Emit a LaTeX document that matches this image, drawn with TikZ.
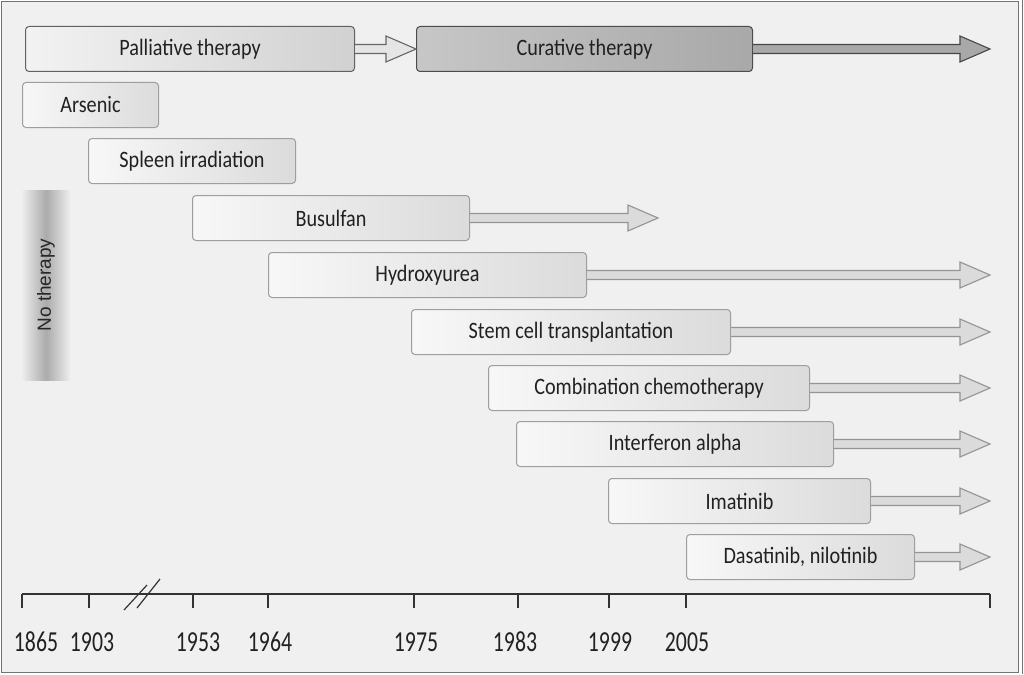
\documentclass[tikz,border=0pt]{standalone}
\usepackage{fontspec}
\setmainfont{Carlito}[FakeStretch=0.86]
\newfontfamily\yearfont{Carlito}[FakeStretch=0.75]
\newfontfamily\barfont{Liberation Sans}
\usepackage{tikz}
\usetikzlibrary{calc}

% hollow block arrow from a box to the x of a coordinate
\newcommand{\therarrow}[3]{%
  \draw[#3] let \p1 = (#1.east), \p2 = (#2) in
    (\x1,\y1+4.5pt) -- (\x2-30pt,\y1+4.5pt) -- (\x2-30pt,\y1+13pt) -- (\x2,\y1)
    -- (\x2-30pt,\y1-13pt) -- (\x2-30pt,\y1-4.5pt) -- (\x1,\y1-4.5pt);
}

\begin{document}
\begin{tikzpicture}[x=1pt,y=-1pt,line width=1pt,
  font=\fontsize{23.5}{28}\selectfont, text=black!87,
  drug/.style={draw=black!38, rounded corners=3.5pt, left color=black!3,
    right color=black!14, minimum height=45, inner sep=0pt, anchor=west},
  era/.style={drug, draw=black!62, left color=black!5, right color=black!18},
  cure/.style={drug, draw=black!70, left color=black!22, right color=black!34},
  lightarr/.style={draw=black!42, fill=black!14, line width=1.1pt},
  paliarr/.style={draw=black!60, fill=black!10, line width=1.1pt},
  curearr/.style={draw=black!72, fill=black!34, line width=1.1pt},
  year/.style={anchor=base, inner sep=0pt, font=\yearfont\fontsize{29}{32}\selectfont}]
  \useasboundingbox (0,0) rectangle (1024,674);

  % frame
  \draw[black!55, fill=black!6] (1.5,1.5) rectangle (1018,672.5);
  \draw[black!55] (1022.5,0) -- (1022.5,674);

  \node[rotate=90, minimum width=190, minimum height=48, inner sep=0pt,
    left color=black!7, right color=black!7, middle color=black!33,
    font=\barfont\fontsize{19}{22}\selectfont, text=black!85] (none) at (46,285) {No therapy};

  \node[era,  minimum width=329] (pall) at (25,49)  {Palliative therapy};
  \node[cure, minimum width=336] (cur)  at (416,49) {Curative therapy};
  \node[drug, minimum width=136] (ars)  at (22,105) {Arsenic};
  \node[drug, minimum width=207] (spl)  at (88,161) {Spleen irradiation};
  \node[drug, minimum width=277] (bus)  at (192,218) {Busulfan};
  \node[drug, minimum width=318] (hyd)  at (268,275) {Hydroxyurea};
  \node[drug, minimum width=319] (sct)  at (411,332) {Stem cell transplantation};
  \node[drug, minimum width=321] (comb) at (488,388) {Combination chemotherapy};
  \node[drug, minimum width=317] (ifn)  at (516,444) {Interferon alpha};
  \node[drug, minimum width=262] (ima)  at (608,501) {Imatinib};
  \node[drug, minimum width=228] (das)  at (686,557) {Dasatinib, nilotinib};

  \coordinate (axisL) at (22,594);
  \coordinate (axisR) at (990,594);
  \coordinate (busend) at (658,218);

  \therarrow{pall}{cur.west}{paliarr}
  \therarrow{cur}{axisR}{curearr}
  \therarrow{bus}{busend}{lightarr}
  \therarrow{hyd}{axisR}{lightarr}
  \therarrow{sct}{axisR}{lightarr}
  \therarrow{comb}{axisR}{lightarr}
  \therarrow{ifn}{axisR}{lightarr}
  \therarrow{ima}{axisR}{lightarr}
  \therarrow{das}{axisR}{lightarr}

  % time axis
  \draw[black!80, line width=1.2pt] (axisL) -- (axisR);
  \draw[black!80, line width=1.2pt] (axisR) -- ++(0,14);
  \foreach \tx/\lx/\yr in {22/36/1865, 89/92/1903, 193/198/1953, 268/270/1964,
      414/416/1975, 518/515/1983, 609/610/1999, 686/687/2005}{
    \draw[black!80, line width=1.2pt] (\tx,594) -- ++(0,14);
    \node[year] (y\yr) at (\lx,651) {\yr};
  }
  \draw[black!80, line width=1.2pt] (124,610) -- (147,585) (137,608) -- (160,579);
\end{tikzpicture}
\end{document}
